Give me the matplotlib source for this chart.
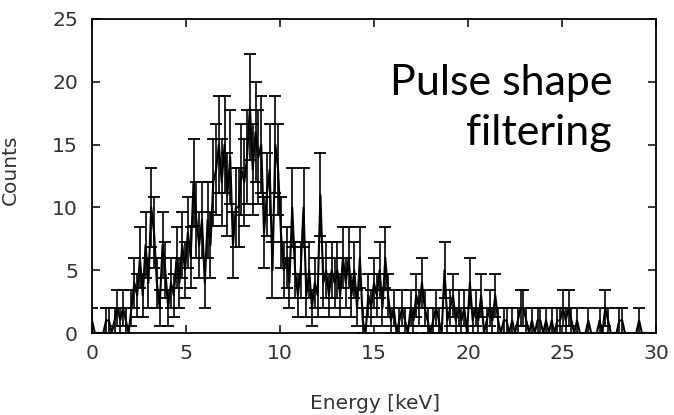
"""Energy spectrum after pulse shape filtering, gnuplot-style errorbar plot."""

import numpy as np
import matplotlib

matplotlib.use("Agg")
import matplotlib.pyplot as plt

# bin width 0.15 keV, first bin at 0 keV
bin_width = 0.15
counts = [
    1, 0, 0, 0, 0, 1, 1, 0, 1, 2,
    1, 2, 1, 0, 2, 4, 3, 6, 3, 7,
    4, 10, 8, 4, 2, 7, 5, 2, 4, 3,
    6, 4, 7, 5, 8, 6, 12, 9, 7, 9,
    4, 9, 7, 12, 13, 15, 12, 15, 11, 14,
    7, 10, 10, 13, 12, 14, 18, 13, 16, 14,
    15, 8, 11, 13, 5, 15, 13, 8, 5, 6,
    4, 10, 5, 3, 5, 10, 3, 5, 2, 4,
    3, 11, 4, 5, 3, 5, 4, 5, 3, 6,
    4, 6, 3, 5, 2, 6, 1, 0, 3, 2,
    4, 3, 5, 2, 6, 3, 1, 2, 0, 1,
    2, 1, 0, 2, 1, 3, 2, 4, 2, 1,
    0, 1, 2, 1, 0, 5, 1, 2, 3, 1,
    2, 1, 2, 0, 4, 1, 2, 1, 3, 0,
    1, 2, 1, 3, 1, 0, 1, 1, 0, 1,
    0, 1, 2, 2, 1, 0, 1, 0, 1, 1,
    0, 1, 0, 1, 0, 1, 1, 2, 1, 2,
    1, 0, 1, 0, 0, 0, 1, 0, 0, 0,
    1, 0, 2, 1, 0, 0, 0, 1, 1, 0,
    0, 0, 0, 0, 1, 0, 0, 0, 0, 0,
]
x_ticks = [0, 5, 10, 15, 20, 25, 30]
y_ticks = [0, 5, 10, 15, 20, 25]

energy = np.arange(len(counts)) * bin_width
counts = np.array(counts, dtype=float)
errors = np.sqrt(counts)

W, H = 674, 415
fig = plt.figure(figsize=(W / 100, H / 100), dpi=100)
ax = fig.add_axes([92 / W, 82 / H, (656 - 92) / W, (333 - 19) / H])

ax.plot(energy, counts, color="black", linewidth=1.5)
nz = counts > 0
ax.errorbar(energy[nz], counts[nz], yerr=errors[nz], fmt="none",
            ecolor="black", elinewidth=1.2, capsize=4.3, capthick=1.3)

ax.set_xlim(0, 30)
ax.set_ylim(0, 25)
ax.set_xticks(x_ticks)
ax.set_yticks(y_ticks)
ax.tick_params(direction="in", top=True, right=True, length=6, width=1.1,
               labelsize=14.7, labelcolor="#333333")
ax.tick_params(axis="x", pad=8)
ax.tick_params(axis="y", pad=10)
for spine in ax.spines.values():
    spine.set_linewidth(1.3)

fig.text(375 / W, 1 - 403 / H, "Energy [keV]", ha="center", va="center",
         fontsize=14.5, color="#333333")
fig.text(1 / W, 1 - 170 / H, "Counts", ha="left", va="center",
         rotation=90, fontsize=14.5, color="#333333")

fig.text(612 / W, 1 - 95 / H, "Pulse shape", ha="right", va="baseline",
         fontsize=31, family="Lato", color="black")
fig.text(612 / W, 1 - 145 / H, "filtering", ha="right", va="baseline",
         fontsize=31, family="Lato", color="black")

fig.savefig("out.png", dpi=100)
